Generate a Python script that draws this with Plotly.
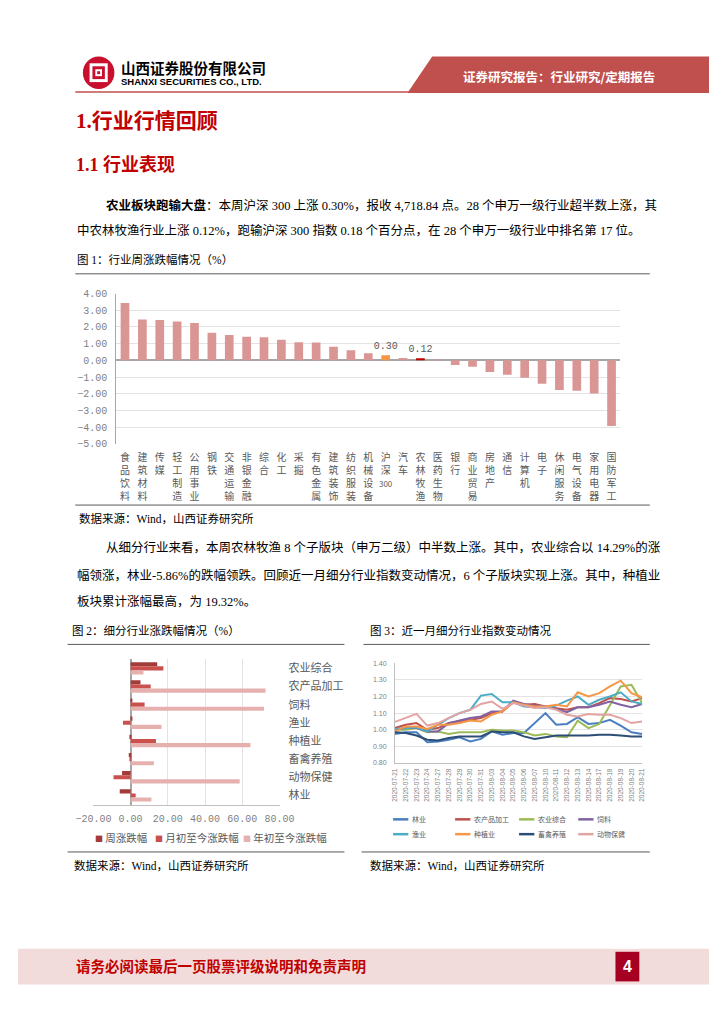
import plotly.graph_objects as go

W, H = 724, 1024


def X(px):
    return px / W


def Y(py):
    return 1 - py / H


CJK = "Noto Sans CJK SC"
BODY = "Liberation Serif, Noto Sans CJK SC"
MONO = "Liberation Mono, Noto Sans CJK SC"
SANS = "Liberation Sans, Noto Sans CJK SC"

# ---------------- data ----------------
ind_names = ["食品饮料", "建筑材料", "传媒", "轻工制造", "公用事业", "钢铁", "交通运输", "非银金融",
             "综合", "化工", "采掘", "有色金属", "建筑装饰", "纺织服装", "机械设备", "沪深300",
             "汽车", "农林牧渔", "医药生物", "银行", "商业贸易", "房地产", "通信", "计算机",
             "电子", "休闲服务", "电气设备", "家用电器", "国防军工"]
ind_week_chg = [3.44, 2.44, 2.42, 2.32, 2.24, 1.66, 1.52, 1.42, 1.38, 1.24, 1.08, 1.07, 0.82,
                0.60, 0.42, 0.30, 0.14, 0.12, 0.02, -0.28, -0.38, -0.70, -0.86, -1.04, -1.40,
                -1.78, -1.82, -1.98, -3.94]
ind_labeled = ["沪深300", "农林牧渔"]

sub_names = ["农业综合", "农产品加工", "饲料", "渔业", "种植业", "畜禽养殖", "动物保健", "林业"]
sub_week = [14.29, 5.3, 0.8, 0.8, -0.3, -1.0, -4.6, -5.86]
sub_month = [17.6, 10.8, 7.5, -4.1, 13.6, -0.2, -9.2, 2.7]
sub_ytd = [6.9, 72.5, 71.7, 16.6, 64.4, 12.5, 58.6, 11.2]
sub_series_names = ["周涨跌幅", "月初至今涨跌幅", "年初至今涨跌幅"]

dates = ["2020-07-21", "2020-07-22", "2020-07-23", "2020-07-24", "2020-07-27", "2020-07-28",
         "2020-07-29", "2020-07-30", "2020-07-31", "2020-08-03", "2020-08-04", "2020-08-05",
         "2020-08-06", "2020-08-07", "2020-08-10", "2020-08-11", "2020-08-12", "2020-08-13",
         "2020-08-14", "2020-08-17", "2020-08-18", "2020-08-19", "2020-08-20", "2020-08-21"]
idx_linye = [0.975, 0.985, 0.985, 0.925, 0.93, 0.94, 0.955, 0.93, 0.945, 0.99, 0.97, 0.98,
             0.98, 1.04, 1.10, 1.03, 1.035, 1.075, 1.035, 1.04, 1.06, 1.025, 0.985, 0.975]
idx_ncpjg = [1.01, 1.03, 1.04, 1.0, 1.01, 1.04, 1.05, 1.06, 1.07, 1.10, 1.11, 1.165, 1.15,
             1.155, 1.14, 1.13, 1.12, 1.135, 1.135, 1.16, 1.19, 1.185, 1.17, 1.19]
idx_nyzh = [1.0, 1.0, 1.01, 0.985, 0.99, 0.975, 0.985, 0.985, 0.985, 1.0, 0.995, 0.995, 0.985,
            0.965, 0.975, 0.96, 0.955, 1.055, 1.01, 1.035, 1.15, 1.26, 1.27, 1.16]
idx_sl = [1.0, 1.01, 1.01, 0.99, 0.99, 1.04, 1.055, 1.07, 1.08, 1.11, 1.11, 1.175, 1.155,
          1.145, 1.14, 1.125, 1.105, 1.135, 1.135, 1.15, 1.17, 1.15, 1.135, 1.155]
idx_yy = [1.005, 1.01, 1.015, 0.99, 1.03, 1.07, 1.10, 1.12, 1.205, 1.215, 1.165, 1.165, 1.14,
          1.135, 1.13, 1.145, 1.175, 1.20, 1.15, 1.18, 1.20, 1.225, 1.17, 1.155]
idx_zzy = [0.99, 1.02, 1.02, 1.005, 1.03, 1.03, 1.04, 1.055, 1.05, 1.09, 1.11, 1.165, 1.15,
           1.14, 1.14, 1.15, 1.14, 1.225, 1.20, 1.22, 1.26, 1.295, 1.22, 1.195]
idx_xqyz = [0.985, 0.98, 0.965, 0.94, 0.935, 0.95, 0.96, 0.96, 0.96, 0.99, 0.985, 0.985, 0.96,
            0.945, 0.955, 0.965, 0.965, 0.965, 0.965, 0.97, 0.97, 0.965, 0.96, 0.96]
idx_dwbj = [1.047, 1.07, 1.095, 1.025, 1.04, 1.07, 1.10, 1.12, 1.155, 1.17, 1.125, 1.16, 1.145,
            1.13, 1.135, 1.12, 1.09, 1.08, 1.095, 1.09, 1.09, 1.07, 1.04, 1.05]
idx_names = ["林业", "农产品加工", "农业综合", "饲料", "渔业", "种植业", "畜禽养殖", "动物保健"]
idx_series = [idx_linye, idx_ncpjg, idx_nyzh, idx_sl, idx_yy, idx_zzy, idx_xqyz, idx_dwbj]

# ---------------- styles ----------------
BAR_BASE = "#DA9694"
BAR_HL = {"沪深300": "#F79646", "农林牧渔": "#C00000"}
SUB_COLORS = ["#A33B39", "#C9504D", "#E6B0AF"]
IDX_COLORS = ["#4A7EC0", "#C0504D", "#9BBB59", "#8064A2", "#4BACC6", "#F79646", "#2C4D75", "#E2A3A2"]
RED = "#C00000"


def vert(name):
    parts, buf = [], ""
    for ch in name:
        if ch.isdigit():
            buf += ch
        else:
            if buf:
                parts.append("<span style='font-size:8px'>%s</span>" % buf)
                buf = ""
            parts.append(ch)
    if buf:
        parts.append("<span style='font-size:8px'>%s</span>" % buf)
    return "<br>".join(parts)


fig = go.Figure()

# ---- chart 1 ----
fig.add_trace(go.Bar(
    x=ind_names, y=ind_week_chg,
    marker=dict(color=[BAR_HL.get(n, BAR_BASE) for n in ind_names], line=dict(width=0)),
    width=0.5,
    text=[("%.2f" % v if n in ind_labeled else "") for n, v in zip(ind_names, ind_week_chg)],
    textposition="outside", constraintext="none",
    textfont=dict(family=MONO, size=10, color="#595959"),
    cliponaxis=False, xaxis="x", yaxis="y", showlegend=False, name="周涨跌幅",
))

# ---- chart 2 ----
for nm, vals, col in zip(sub_series_names, [sub_week, sub_month, sub_ytd], SUB_COLORS):
    fig.add_trace(go.Bar(
        y=sub_names, x=vals, orientation="h", name=nm,
        marker=dict(color=col, line=dict(width=0)),
        xaxis="x2", yaxis="y2", showlegend=False,
    ))

# ---- chart 3 ----
for nm, vals, col in zip(idx_names, idx_series, IDX_COLORS):
    fig.add_trace(go.Scatter(
        x=dates, y=vals, mode="lines", name=nm,
        line=dict(color=col, width=2),
        xaxis="x3", yaxis="y3", showlegend=False,
    ))

shapes = []
annotations = []


def line(x0, y0, x1, y1, color="#595959", width=1):
    shapes.append(dict(type="line", xref="paper", yref="paper", x0=X(x0), y0=Y(y0), x1=X(x1), y1=Y(y1),
                       line=dict(color=color, width=width), layer="above"))


def rect(x0, y0, x1, y1, fill, layer="below"):
    shapes.append(dict(type="rect", xref="paper", yref="paper", x0=X(x0), y0=Y(y1), x1=X(x1), y1=Y(y0),
                       fillcolor=fill, line=dict(width=0), layer=layer))


def text(x, y, s, size=12, color="#000000", family=BODY, xanchor="left", yanchor="middle"):
    annotations.append(dict(xref="paper", yref="paper", x=X(x), y=Y(y), text=s, showarrow=False,
                            xanchor=xanchor, yanchor=yanchor, align="left",
                            font=dict(size=size, color=color, family=family)))


# header
shapes.append(dict(type="path", xref="paper", yref="paper",
                   path="M %f,%f L 1,%f L 1,%f L %f,%f Z" % (X(434), Y(52), Y(52), Y(89), X(408), Y(89)),
                   fillcolor="#C0504D", line=dict(width=0)))
line(60, 88, 410, 88, color="#C0504D", width=1.5)
shapes.append(dict(type="circle", xref="paper", yref="paper", x0=X(68), y0=Y(85), x1=X(101), y1=Y(52),
                   fillcolor="#C8102E", line=dict(width=0)))
rect(75, 59, 94, 78, "#FFFFFF", layer="above")
rect(78, 62, 91, 75, "#C8102E", layer="above")
rect(81, 65, 88, 72, "#FFFFFF", layer="above")
rect(83, 67, 86, 70, "#C8102E", layer="above")
text(106, 63, "<b>山西证券股份有限公司</b>", size=14.5, family=CJK)
text(106, 77, "<b>SHANXI SECURITIES CO., LTD.</b>", size=9.5, family=SANS)
text(567, 72, "<b>证券研究报告：行业研究/定期报告</b>", size=12.5, color="#FFFFFF", family=CJK, xanchor="center")

# headings and paragraphs
text(59, 117, "<b>1.行业行情回顾</b>", size=21, color=RED, family="Liberation Serif, Noto Sans CJK SC")
text(59, 162, "<b>1.1 行业表现</b>", size=18, color=RED, family="Liberation Serif, Noto Sans CJK SC")
text(90, 203, "<b>农业板块跑输大盘</b>：本周沪深 300 上涨 0.30%，报收 4,718.84 点。28 个申万一级行业超半数上涨，其",
     size=12.5)
text(60, 228, "中农林牧渔行业上涨 0.12%，跑输沪深 300 指数 0.18 个百分点，在 28 个申万一级行业中排名第 17 位。",
     size=12.5)
text(60, 258, "图 1：行业周涨跌幅情况（%）", size=11.5)
line(60, 272, 662, 272)
line(60, 506, 662, 506)
text(62, 520, "数据来源：Wind，山西证券研究所", size=11.5)
text(90, 549, "从细分行业来看，本周农林牧渔 8 个子版块（申万二级）中半数上涨。其中，农业综合以 14.29%的涨", size=12.5)
text(60, 577, "幅领涨，林业-5.86%的跌幅领跌。回顾近一月细分行业指数变动情况，6 个子版块实现上涨。其中，种植业", size=12.5)
text(60, 604, "板块累计涨幅最高，为 19.32%。", size=12.5)

text(55, 633, "图 2：细分行业涨跌幅情况（%）", size=11.5)
text(367, 633, "图 3：近一月细分行业指数变动情况", size=11.5)
line(52, 647, 342, 647)
line(362, 647, 662, 647)
line(52, 857, 342, 857)
line(360, 857, 662, 857)
text(57, 871, "数据来源：Wind，山西证券研究所", size=11.5)
text(367, 871, "数据来源：Wind，山西证券研究所", size=11.5)

# chart 2 legend
leg2_x = [79, 141, 234]
for x0, nm, col in zip(leg2_x, sub_series_names, SUB_COLORS):
    text(x0, 842, "<span style='color:%s;font-size:8px'>■</span> %s" % (col, nm), size=10.5, color="#595959", family=CJK)

# chart 3 legend
leg3_pos = [(393, 824), (458, 824), (525, 824), (587, 824), (393, 839), (458, 839), (525, 839), (587, 839)]
for (x0, y0), nm, col in zip(leg3_pos, idx_names, IDX_COLORS):
    line(x0, y0, x0 + 16, y0, color=col, width=2.5)
    text(x0 + 18, y0, nm, size=7, color="#595959", family=CJK)

# footer
rect(0, 955, 724, 991, "#F2DCDB")
text(59, 972, "<b>请务必阅读最后一页股票评级说明和免责声明</b>", size=14.5, color=RED, family=CJK)
rect(626, 958, 651, 988, "#A50021", layer="above")
text(638.5, 973, "<b>4</b>", size=16, color="#FFFFFF", family=SANS, xanchor="center")

fig.update_layout(
    width=W, height=H, margin=dict(l=0, r=0, t=0, b=0),
    paper_bgcolor="#FFFFFF", plot_bgcolor="rgba(0,0,0,0)",
    barmode="group", bargap=0.32, bargroupgap=0,
    shapes=shapes, annotations=annotations, showlegend=False,
    xaxis=dict(domain=[X(103), X(631)], anchor="y", type="category", tickmode="array",
               tickvals=ind_names, ticktext=[vert(n) for n in ind_names], tickangle=0,
               tickfont=dict(family=CJK, size=10, color="#595959"), showgrid=False, showline=False,
               ticks="", ticklabelstandoff=6, fixedrange=True),
    yaxis=dict(domain=[Y(444), Y(292)], anchor="x", range=[-5, 4], dtick=1, tick0=0, tickformat=".2f",
               showgrid=True, gridcolor="#E3E3E3", zeroline=True, zerolinecolor="#A6A6A6",
               zerolinewidth=2, showline=True, linecolor="#A6A6A6", linewidth=1,
               tickfont=dict(family=MONO, size=10, color="#7F7F7F"), ticklabelstandoff=6),
    xaxis2=dict(domain=[X(79), X(274)], anchor="y2", range=[-20, 80], dtick=20, tick0=0,
                tickformat=".2f", showgrid=True, gridcolor="#E3E3E3", zeroline=True,
                zerolinecolor="#A6A6A6", zerolinewidth=1.5, showline=True, linecolor="#BFBFBF",
                tickfont=dict(family=MONO, size=10, color="#7F7F7F"), ticklabelstandoff=4),
    yaxis2=dict(domain=[Y(809), Y(662)], anchor="x2", type="category", autorange="reversed",
                side="right", showgrid=False, showline=False, ticks="",
                tickfont=dict(family=CJK, size=11, color="#595959"), ticklabelstandoff=8),
    xaxis3=dict(domain=[X(395), X(654)], anchor="y3", type="category", tickangle=-90,
                tickfont=dict(family=SANS, size=6.5, color="#7F7F7F"), showgrid=False,
                showline=True, linecolor="#BFBFBF", ticks="", ticklabelstandoff=2),
    yaxis3=dict(domain=[Y(767), Y(666)], anchor="x3", range=[0.8, 1.4], dtick=0.1, tick0=0.8,
                tickformat=".2f", showgrid=True, gridcolor="#E3E3E3", zeroline=False,
                showline=True, linecolor="#BFBFBF",
                tickfont=dict(family=SANS, size=7, color="#7F7F7F"), ticklabelstandoff=6),
)

fig.write_html("out.html", config={"displayModeBar": False},
               post_script="document.body.style.margin='0';document.body.style.overflow='hidden';")
